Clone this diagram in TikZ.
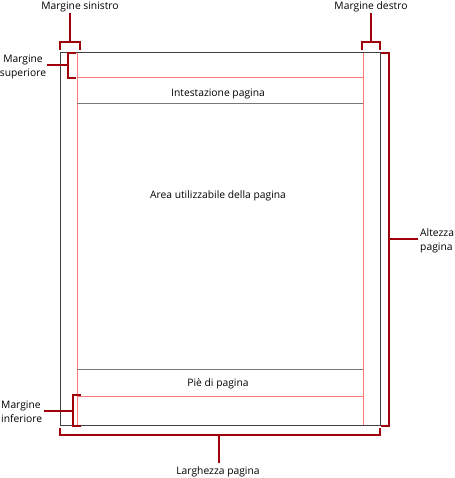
\documentclass[tikz,border=0pt]{standalone}
\usepackage{fontspec}
\setmainfont{Open Sans}
\definecolor{margred}{RGB}{160,0,10}
\definecolor{guidepink}{RGB}{255,120,120}
\definecolor{rulegray}{RGB}{120,120,120}
\definecolor{pageedge}{RGB}{64,64,64}
\tikzset{
	bracket/.style={draw=margred, line width=2pt},
	guide/.style={draw=guidepink, line width=0.9pt},
	rule/.style={draw=rulegray, line width=1pt},
	label/.style={font=\fontsize{10.3}{13.5}\selectfont, inner sep=0pt},
}
\begin{document}
\begin{tikzpicture}[x=1pt, y=-1pt]
	\useasboundingbox (0,0) rectangle (454,478);

	% page
	\draw[draw=pageedge, line width=1pt] (60,53) rectangle (380,425);
	\draw[guide] (77,53) -- (77,425);
	\draw[guide] (363,53) -- (363,425);
	\draw[guide] (77,77) -- (363,77);
	\draw[guide] (77,396) -- (363,396);
	\draw[rule] (77,104) -- (363,104);
	\draw[rule] (77,369) -- (363,369);

	\node[label] (header) at (218,94) {Intestazione pagina};
	\node[label] (body) at (218,196) {Area utilizzabile della pagina};
	\node[label] (footer) at (218,384) {Piè di pagina};

	% brackets
	\draw[bracket] (60,50) -- (60,42) -- (80,42) -- (80,50);
	\draw[bracket] (362,50) -- (362,42) -- (380,42) -- (380,50);
	\draw[bracket] (76,53) -- (68,53) -- (68,78) -- (76,78);
	\draw[bracket] (81,395) -- (73,395) -- (73,426) -- (81,426);
	\draw[bracket] (60,428) -- (60,435) -- (380,435) -- (380,428);
	\draw[bracket] (381,53) -- (389,53) -- (389,426) -- (381,426);

	\coordinate (left) at (70,42);
	\coordinate (right) at (371,42);
	\coordinate (top) at (68,65);
	\coordinate (bottom) at (73,411);
	\coordinate (width) at (219,435);
	\coordinate (height) at (389,239);

	% labels
	\node[label] (leftlbl) at (80,7) {Margine sinistro};
	\node[label] (rightlbl) at (371,7) {Margine destro};
	\node[label, align=center] (toplbl) at (23,67) {Margine\\superiore};
	\node[label, align=left, anchor=west] (bottomlbl) at (1,412) {Margine\\inferiore};
	\node[label] (widthlbl) at (218,472) {Larghezza pagina};
	\node[label, align=left, anchor=west] (heightlbl) at (420,241) {Altezza\\pagina};

	\draw[bracket] (left) -- (left |- 0,13);
	\draw[bracket] (right) -- (right |- 0,13);
	\draw[bracket] (top) -- ([xshift=1pt]toplbl.east |- top);
	\draw[bracket] (bottom) -- ([xshift=2pt]bottomlbl.east |- bottom);
	\draw[bracket] (width) -- (width |- 0,463);
	\draw[bracket] (height) -- ([xshift=-2pt]heightlbl.west |- height);
\end{tikzpicture}
\end{document}
